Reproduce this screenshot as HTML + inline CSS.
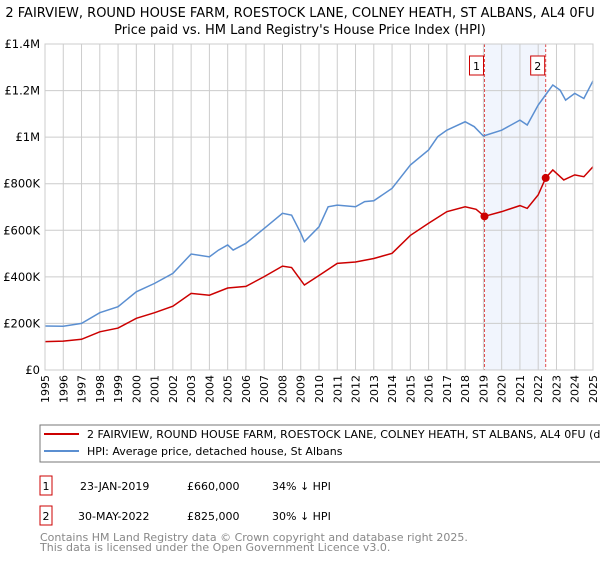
<!DOCTYPE html>
<html><head><meta charset="utf-8"><style>
body{margin:0;background:#fff;font-family:"Liberation Sans","DejaVu Sans",sans-serif;}
svg text{font-family:"DejaVu Sans","Liberation Sans",sans-serif;}
</style></head><body>
<svg id="c" width="600" height="560" viewBox="0 0 600 560">
<text x="300" y="17" text-anchor="middle" font-size="13">2 FAIRVIEW, ROUND HOUSE FARM, ROESTOCK LANE, COLNEY HEATH, ST ALBANS, AL4 0FU</text>
<text x="300" y="34" text-anchor="middle" font-size="13">Price paid vs. HM Land Registry's House Price Index (HPI)</text>
<g id="grid"></g><g id="series"></g><g id="axes"></g>
<rect x="40" y="425" width="570" height="37" fill="#fff" stroke="#777"/>
<line x1="44" y1="434" x2="79" y2="434" stroke="#cc0000" stroke-width="2"/>
<text x="87" y="438" font-size="11">2 FAIRVIEW, ROUND HOUSE FARM, ROESTOCK LANE, COLNEY HEATH, ST ALBANS, AL4 0FU (detached house)</text>
<line x1="44" y1="451" x2="79" y2="451" stroke="#5b8fd1" stroke-width="2"/>
<text x="87" y="455" font-size="11">HPI: Average price, detached house, St Albans</text>
<g>
<rect x="40" y="476" width="12" height="19" fill="#fff" stroke="#cc0000"/>
<text x="46" y="490" font-size="11" text-anchor="middle">1</text>
<text x="80" y="490" font-size="11">23-JAN-2019</text>
<text x="187" y="490" font-size="11">£660,000</text>
<text x="272" y="490" font-size="11">34% ↓ HPI</text></g>
<g>
<rect x="40" y="506" width="12" height="19" fill="#fff" stroke="#cc0000"/>
<text x="46" y="520" font-size="11" text-anchor="middle">2</text>
<text x="78" y="520" font-size="11">30-MAY-2022</text>
<text x="187" y="520" font-size="11">£825,000</text>
<text x="272" y="520" font-size="11">30% ↓ HPI</text></g>
<text x="40" y="541" font-size="11" fill="#888">Contains HM Land Registry data © Crown copyright and database right 2025.</text>
<text x="40" y="551" font-size="11" fill="#888">This data is licensed under the Open Government Licence v3.0.</text>
</svg>
<script>
const hpiYears=[1995,1996,1997,1998,1999,2000,2001,2002,2003,2004,2004.5,2005,2005.3,2006,2007,2008,2008.5,2009,2009.2,2010,2010.5,2011,2012,2012.5,2013,2014,2015,2016,2016.5,2017,2018,2018.5,2019,2020,2021,2021.4,2022,2022.4,2022.8,2023.2,2023.5,2024,2024.5,2025];
const hpiValues=[189,188,200,246,272,336,372,415,498,486,515,537,515,544,608,673,665,588,551,615,701,708,701,723,727,780,880,945,1002,1030,1066,1045,1005,1030,1073,1052,1138,1181,1224,1202,1159,1188,1166,1242];
const priceYears=[1995,1996,1997,1998,1999,2000,2001,2002,2003,2004,2005,2006,2007,2008,2008.5,2009.2,2010,2011,2012,2013,2014,2015,2016,2017,2018,2018.6,2019.06,2020,2021,2021.4,2022,2022.41,2022.8,2023.4,2024,2024.5,2025];
const priceValues=[122,124,132,164,180,222,246,274,329,321,352,359,401,446,440,365,406,458,464,479,501,578,630,680,701,690,660,680,706,694,752,825,859,816,838,830,873];
const sales=[{n:"1",year:2019.06,value:660},{n:"2",year:2022.41,value:825}];
const yTicks=[0,200,400,600,800,1000,1200,1400];
const yTickLabels=["£0","£200K","£400K","£600K","£800K","£1M","£1.2M","£1.4M"];
const xTicks=[1995,1996,1997,1998,1999,2000,2001,2002,2003,2004,2005,2006,2007,2008,2009,2010,2011,2012,2013,2014,2015,2016,2017,2018,2019,2020,2021,2022,2023,2024,2025];
const L=45,R=593,T=44,B=370;
const sx=y=>L+(y-1995)/(2025-1995)*(R-L);
const sy=v=>B-v/1400*(B-T);
const NS="http://www.w3.org/2000/svg";
function mk(p,t,a){const e=document.createElementNS(NS,t);for(const k in a)e.setAttribute(k,a[k]);p.appendChild(e);return e;}
const grid=document.getElementById('grid'),ser=document.getElementById('series'),ax=document.getElementById('axes');
const sh=mk(grid,'rect',{x:sx(sales[0].year),y:T,width:sx(sales[1].year)-sx(sales[0].year),height:B-T,fill:'#eef3fc',opacity:0.8});


xTicks.forEach(y=>{const l=mk(grid,'line',{x1:sx(y),x2:sx(y),y1:T,y2:B,stroke:'#ccc'});


const t=mk(ax,'text',{x:0,y:0,'font-size':11,'text-anchor':'end',transform:`translate(${sx(y)+4},${B+5}) rotate(-90)`});t.textContent=y;

});
yTicks.forEach((v,i)=>{const l=mk(grid,'line',{x1:L,x2:R,y1:sy(v),y2:sy(v),stroke:'#ccc'});


const t=mk(ax,'text',{x:L-5,y:sy(v)+4,'font-size':11.5,'text-anchor':'end'});t.textContent=yTickLabels[i];

});
sales.forEach(s=>{const l=mk(grid,'line',{x1:sx(s.year),x2:sx(s.year),y1:T,y2:B,stroke:'#e05050','stroke-dasharray':'3,2'});

});
const hp=mk(ser,'polyline',{points:hpiYears.map((y,i)=>sx(y)+','+sy(hpiValues[i])).join(' '),fill:'none',stroke:'#5b8fd1','stroke-width':1.5});


const pp=mk(ser,'polyline',{points:priceYears.map((y,i)=>sx(y)+','+sy(priceValues[i])).join(' '),fill:'none',stroke:'#cc0000','stroke-width':1.5});


sales.forEach(s=>{const c=mk(ser,'circle',{cx:sx(s.year),cy:sy(s.value),r:4,fill:'#cc0000'});


const r=mk(ser,'rect',{x:sx(s.year)-15,y:56,width:14,height:19,fill:'#fff',stroke:'#cc0000'});


const t=mk(ser,'text',{x:sx(s.year)-8,y:70,'font-size':11,'text-anchor':'middle'});t.textContent=s.n;

});
const bx=mk(ax,'rect',{x:L,y:T,width:R-L,height:B-T,fill:'none',stroke:'#ccc'});


</script>
</body></html>
